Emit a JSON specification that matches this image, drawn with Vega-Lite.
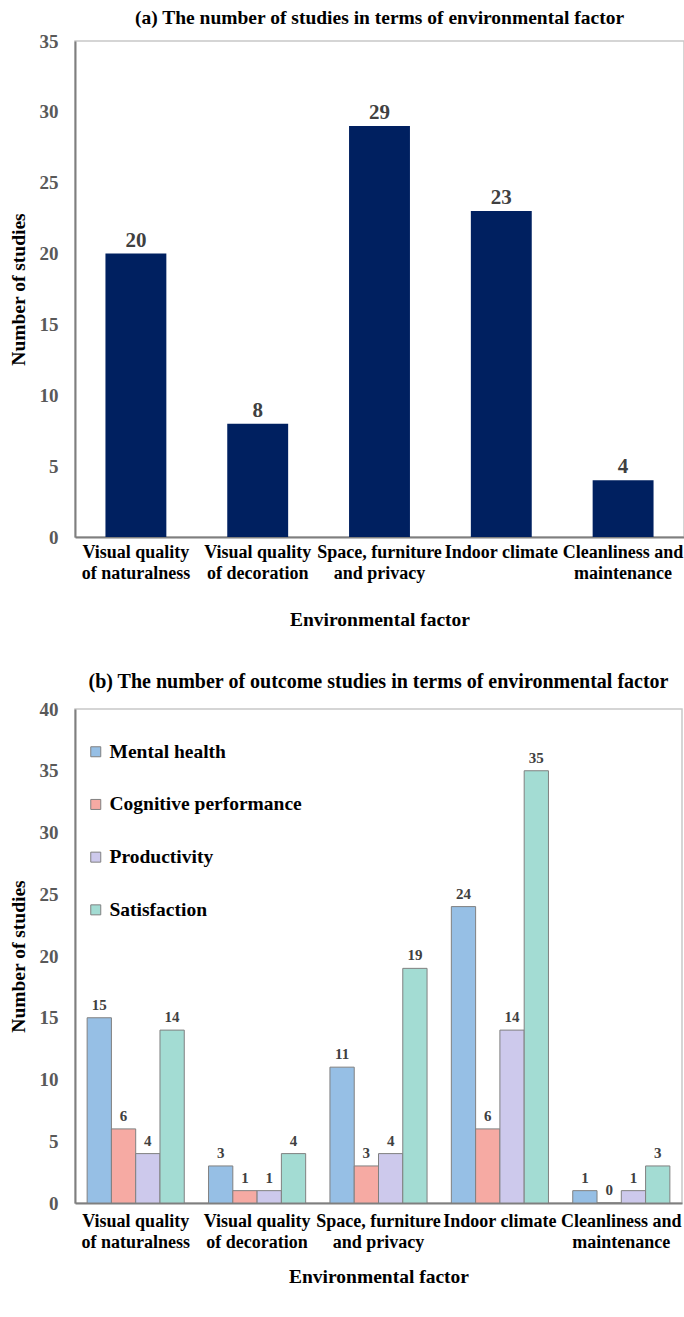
{
  "$schema": "https://vega.github.io/schema/vega-lite/v6.json",
  "padding": {"left": 7, "top": 6, "right": 0, "bottom": 5},
  "background": "white",
  "spacing": 41,
  "config": {
    "font": "Liberation Serif",
    "view": {"stroke": "#c8c8c8", "strokeWidth": 1.5},
    "axis": {
      "grid": false,
      "ticks": false,
      "domainColor": "#7f7f7f",
      "domainWidth": 2,
      "labelFont": "Liberation Serif",
      "labelFontWeight": "bold",
      "titleFont": "Liberation Serif",
      "titleFontWeight": "bold",
      "titleColor": "black",
      "titleFontSize": 19.5
    },
    "axisX": {"labelAngle": 0, "labelColor": "black", "labelFontSize": 18, "labelLineHeight": 21, "labelOverlap": false, "labelLimit": 200},
    "axisY": {"labelColor": "#595959", "labelFontSize": 19, "labelPadding": 17, "titlePadding": 11}
  },
  "datasets": {
    "a": [
      {"factor": "Visual quality of naturalness", "count": 20},
      {"factor": "Visual quality of decoration", "count": 8},
      {"factor": "Space, furniture and privacy", "count": 29},
      {"factor": "Indoor climate", "count": 23},
      {"factor": "Cleanliness and maintenance", "count": 4}
    ],
    "b": [
      {"factor": "Visual quality of naturalness", "outcome": "Mental health", "count": 15},
      {"factor": "Visual quality of naturalness", "outcome": "Cognitive performance", "count": 6},
      {"factor": "Visual quality of naturalness", "outcome": "Productivity", "count": 4},
      {"factor": "Visual quality of naturalness", "outcome": "Satisfaction", "count": 14},
      {"factor": "Visual quality of decoration", "outcome": "Mental health", "count": 3},
      {"factor": "Visual quality of decoration", "outcome": "Cognitive performance", "count": 1},
      {"factor": "Visual quality of decoration", "outcome": "Productivity", "count": 1},
      {"factor": "Visual quality of decoration", "outcome": "Satisfaction", "count": 4},
      {"factor": "Space, furniture and privacy", "outcome": "Mental health", "count": 11},
      {"factor": "Space, furniture and privacy", "outcome": "Cognitive performance", "count": 3},
      {"factor": "Space, furniture and privacy", "outcome": "Productivity", "count": 4},
      {"factor": "Space, furniture and privacy", "outcome": "Satisfaction", "count": 19},
      {"factor": "Indoor climate", "outcome": "Mental health", "count": 24},
      {"factor": "Indoor climate", "outcome": "Cognitive performance", "count": 6},
      {"factor": "Indoor climate", "outcome": "Productivity", "count": 14},
      {"factor": "Indoor climate", "outcome": "Satisfaction", "count": 35},
      {"factor": "Cleanliness and maintenance", "outcome": "Mental health", "count": 1},
      {"factor": "Cleanliness and maintenance", "outcome": "Cognitive performance", "count": 0},
      {"factor": "Cleanliness and maintenance", "outcome": "Productivity", "count": 1},
      {"factor": "Cleanliness and maintenance", "outcome": "Satisfaction", "count": 3}
    ]
  },
  "vconcat": [
    {
      "width": 609,
      "height": 496,
      "title": {"text": "(a) The number of studies in terms of environmental factor", "fontSize": 19.5, "fontWeight": "bold", "color": "black", "offset": 4, "font": "Liberation Serif"},
      "data": {"name": "a"},
      "encoding": {
        "x": {
          "field": "factor", "type": "nominal", "sort": null,
          "scale": {"paddingInner": 0.5, "paddingOuter": 0.25},
          "axis": {
            "title": "Environmental factor",
            "labelPadding": 6,
            "titlePadding": 28,
            "labelExpr": "datum.value == 'Visual quality of naturalness' ? ['Visual quality', 'of naturalness'] : datum.value == 'Visual quality of decoration' ? ['Visual quality', 'of decoration'] : datum.value == 'Space, furniture and privacy' ? ['Space, furniture', 'and privacy'] : datum.value == 'Cleanliness and maintenance' ? ['Cleanliness and', 'maintenance'] : datum.value"
          }
        },
        "y": {
          "field": "count", "type": "quantitative",
          "scale": {"domain": [0, 35], "nice": false},
          "axis": {"title": "Number of studies", "values": [0, 5, 10, 15, 20, 25, 30, 35]}
        }
      },
      "layer": [
        {"mark": {"type": "bar", "color": "#002060"}},
        {
          "mark": {"type": "text", "baseline": "bottom", "dy": -3, "fontSize": 21, "fontWeight": "bold", "color": "#404040"},
          "encoding": {"text": {"field": "count", "type": "quantitative"}}
        }
      ]
    },
    {
      "width": 607,
      "height": 494,
      "title": {"text": "(b)  The number of outcome studies in terms of environmental factor", "fontSize": 20, "fontWeight": "bold", "color": "black", "offset": 8, "font": "Liberation Serif"},
      "data": {"name": "b"},
      "encoding": {
        "x": {
          "field": "factor", "type": "nominal", "sort": null,
          "scale": {"paddingInner": 0.2, "paddingOuter": 0.1},
          "axis": {
            "title": "Environmental factor",
            "labelPadding": 9,
            "titlePadding": 16,
            "labelExpr": "datum.value == 'Visual quality of naturalness' ? ['Visual quality', 'of naturalness'] : datum.value == 'Visual quality of decoration' ? ['Visual quality', 'of decoration'] : datum.value == 'Space, furniture and privacy' ? ['Space, furniture', 'and privacy'] : datum.value == 'Cleanliness and maintenance' ? ['Cleanliness and', 'maintenance'] : datum.value"
          }
        },
        "xOffset": {
          "field": "outcome", "type": "nominal",
          "sort": ["Mental health", "Cognitive performance", "Productivity", "Satisfaction"],
          "scale": {"paddingInner": 0, "paddingOuter": 0}
        },
        "y": {
          "field": "count", "type": "quantitative",
          "scale": {"domain": [0, 40], "nice": false},
          "axis": {"title": "Number of studies", "values": [0, 5, 10, 15, 20, 25, 30, 35, 40]}
        }
      },
      "layer": [
        {
          "mark": {"type": "bar", "stroke": "#808080", "strokeWidth": 1},
          "encoding": {
            "fill": {
              "field": "outcome", "type": "nominal",
              "scale": {
                "domain": ["Mental health", "Cognitive performance", "Productivity", "Satisfaction"],
                "range": ["#96bfe5", "#f6aaa3", "#cdc9ec", "#a3dcd3"]
              },
              "legend": {
                "title": null,
                "orient": "none",
                "legendX": 11,
                "legendY": 701,
                "direction": "vertical",
                "symbolType": "square",
                "symbolSize": 100,
                "symbolStrokeColor": "#808080",
                "symbolStrokeWidth": 1,
                "labelFont": "Liberation Serif",
                "labelFontWeight": "bold",
                "labelFontSize": 19.5,
                "labelColor": "black",
                "labelOffset": 4,
                "labelLimit": 300,
                "rowPadding": 31.7
              }
            }
          }
        },
        {
          "mark": {"type": "text", "baseline": "bottom", "dy": -5, "fontSize": 15, "fontWeight": "bold", "color": "#404040"},
          "encoding": {"text": {"field": "count", "type": "quantitative"}}
        }
      ]
    }
  ]
}
